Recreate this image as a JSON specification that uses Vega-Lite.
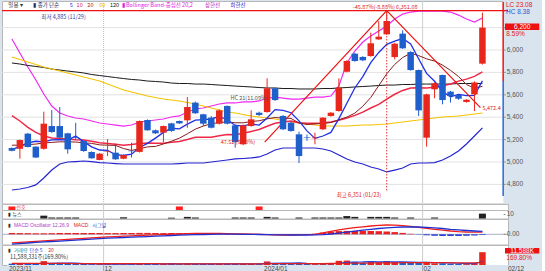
{
"$schema":"https://vega.github.io/schema/vega-lite/v6.json",
"background":"#d9e4ef",
"padding":0,
"spacing":0,
"bounds":"flush",
"config":{
 "view":{"stroke":"#b8b8b8","fill":"#ffffff"},
 "text":{"font":"Noto Sans CJK KR","fontSize":5.5}
},
"datasets":{
"candles":[
{"i":0,"o":5125,"h":5130,"l":5095,"c":5100,"v":1.2,"m5":5110,"m10":5150,"m20":5415,"m60":5938,"m120":5884,"bu":6098,"bl":4750,"macd":-86,"sig":-99,"osc":13,"v5":1.3,"v20":1.5},
{"i":1,"o":5118,"h":5200,"l":5030,"c":5196,"v":1.0,"m5":5140,"m10":5150,"m20":5366,"m60":5915,"m120":5875,"bu":5973,"bl":4759,"macd":-81,"sig":-93,"osc":12,"v5":1.2,"v20":1.5},
{"i":2,"o":5253,"h":5260,"l":5130,"c":5134,"v":1.1,"m5":5170,"m10":5155,"m20":5310,"m60":5893,"m120":5862,"bu":5848,"bl":4772,"macd":-76,"sig":-87,"osc":11,"v5":1.2,"v20":1.4},
{"i":3,"o":5137,"h":5140,"l":5035,"c":5040,"v":1.0,"m5":5185,"m10":5160,"m20":5264,"m60":5870,"m120":5853,"bu":5732,"bl":4795,"macd":-71,"sig":-81,"osc":10,"v5":1.1,"v20":1.4},
{"i":4,"o":5118,"h":5449,"l":5110,"c":5342,"v":3.5,"m5":5180,"m10":5170,"m20":5232,"m60":5848,"m120":5844,"bu":5607,"bl":4857,"macd":-66,"sig":-76,"osc":10,"v5":1.6,"v20":1.4},
{"i":5,"o":5321,"h":5464,"l":5260,"c":5268,"v":1.5,"m5":5198,"m10":5175,"m20":5214,"m60":5830,"m120":5830,"bu":5500,"bl":4928,"macd":-61,"sig":-72,"osc":11,"v5":1.6,"v20":1.4},
{"i":6,"o":5321,"h":5491,"l":5200,"c":5217,"v":1.4,"m5":5200,"m10":5180,"m20":5210,"m60":5812,"m120":5821,"bu":5437,"bl":4982,"macd":-55,"sig":-68,"osc":13,"v5":1.7,"v20":1.4},
{"i":7,"o":5256,"h":5260,"l":5074,"c":5113,"v":1.1,"m5":5196,"m10":5180,"m20":5205,"m60":5795,"m120":5812,"bu":5411,"bl":5000,"macd":-50,"sig":-63,"osc":13,"v5":1.7,"v20":1.4},
{"i":8,"o":5220,"h":5350,"l":5195,"c":5215,"v":0.9,"m5":5231,"m10":5178,"m20":5198,"m60":5777,"m120":5804,"bu":5393,"bl":5004,"macd":-45,"sig":-58,"osc":13,"v5":1.7,"v20":1.3},
{"i":9,"o":5187,"h":5190,"l":5090,"c":5098,"v":0.9,"m5":5182,"m10":5172,"m20":5196,"m60":5759,"m120":5795,"bu":5384,"bl":5009,"macd":-40,"sig":-53,"osc":13,"v5":1.2,"v20":1.3},
{"i":10,"o":5089,"h":5095,"l":5030,"c":5033,"v":0.8,"m5":5135,"m10":5166,"m20":5185,"m60":5741,"m120":5781,"bu":5366,"bl":5004,"macd":-35,"sig":-48,"osc":13,"v5":1.0,"v20":1.3},
{"i":11,"o":5018,"h":5080,"l":5015,"c":5074,"v":0.8,"m5":5107,"m10":5153,"m20":5171,"m60":5723,"m120":5772,"bu":5348,"bl":4995,"macd":-30,"sig":-43,"osc":13,"v5":0.9,"v20":1.3},
{"i":12,"o":5090,"h":5205,"l":5053,"c":5095,"v":0.8,"m5":5103,"m10":5150,"m20":5165,"m60":5696,"m120":5763,"bu":5339,"bl":4991,"macd":-26,"sig":-38,"osc":12,"v5":0.8,"v20":1.2},
{"i":13,"o":5083,"h":5163,"l":5020,"c":5024,"v":0.7,"m5":5065,"m10":5148,"m20":5158,"m60":5670,"m120":5754,"bu":5330,"bl":4986,"macd":-23,"sig":-35,"osc":12,"v5":0.8,"v20":1.2},
{"i":14,"o":5029,"h":5070,"l":5025,"c":5062,"v":0.7,"m5":5058,"m10":5120,"m20":5150,"m60":5643,"m120":5745,"bu":5321,"bl":4982,"macd":-19,"sig":-32,"osc":13,"v5":0.8,"v20":1.2},
{"i":15,"o":5100,"h":5172,"l":5040,"c":5096,"v":0.8,"m5":5070,"m10":5103,"m20":5156,"m60":5625,"m120":5737,"bu":5330,"bl":4982,"macd":-16,"sig":-29,"osc":13,"v5":0.8,"v20":1.2},
{"i":16,"o":5090,"h":5370,"l":5085,"c":5366,"v":1.8,"m5":5129,"m10":5118,"m20":5165,"m60":5607,"m120":5732,"bu":5357,"bl":4982,"macd":-12,"sig":-26,"osc":14,"v5":1.0,"v20":1.2},
{"i":17,"o":5375,"h":5380,"l":5280,"c":5283,"v":1.2,"m5":5166,"m10":5135,"m20":5170,"m60":5589,"m120":5723,"bu":5366,"bl":4982,"macd":-9,"sig":-23,"osc":14,"v5":1.0,"v20":1.2},
{"i":18,"o":5283,"h":5290,"l":5250,"c":5256,"v":0.9,"m5":5213,"m10":5139,"m20":5168,"m60":5576,"m120":5719,"bu":5375,"bl":4982,"macd":-6,"sig":-19,"osc":13,"v5":1.1,"v20":1.2},
{"i":19,"o":5262,"h":5325,"l":5178,"c":5321,"v":1.0,"m5":5264,"m10":5161,"m20":5167,"m60":5562,"m120":5714,"bu":5384,"bl":4982,"macd":-3,"sig":-15,"osc":12,"v5":1.1,"v20":1.1},
{"i":20,"o":5345,"h":5350,"l":5270,"c":5277,"v":0.9,"m5":5301,"m10":5185,"m20":5176,"m60":5553,"m120":5705,"bu":5402,"bl":4982,"macd":1,"sig":-12,"osc":13,"v5":1.2,"v20":1.1},
{"i":21,"o":5366,"h":5370,"l":5340,"c":5345,"v":0.8,"m5":5296,"m10":5213,"m20":5183,"m60":5545,"m120":5701,"bu":5411,"bl":4986,"macd":3,"sig":-9,"osc":12,"v5":1.0,"v20":1.0},
{"i":22,"o":5372,"h":5580,"l":5306,"c":5491,"v":1.6,"m5":5338,"m10":5252,"m20":5201,"m60":5531,"m120":5701,"bu":5446,"bl":4991,"macd":6,"sig":-6,"osc":12,"v5":1.0,"v20":1.0},
{"i":23,"o":5530,"h":5540,"l":5430,"c":5435,"v":1.2,"m5":5374,"m10":5293,"m20":5221,"m60":5518,"m120":5696,"bu":5473,"bl":4991,"macd":8,"sig":-4,"osc":12,"v5":1.1,"v20":1.0},
{"i":24,"o":5426,"h":5430,"l":5320,"c":5342,"v":0.9,"m5":5378,"m10":5321,"m20":5221,"m60":5500,"m120":5696,"bu":5482,"bl":4991,"macd":9,"sig":-2,"osc":11,"v5":1.1,"v20":1.0},
{"i":25,"o":5396,"h":5410,"l":5300,"c":5306,"v":0.9,"m5":5384,"m10":5342,"m20":5222,"m60":5482,"m120":5692,"bu":5500,"bl":5000,"macd":10,"sig":0,"osc":10,"v5":1.1,"v20":1.0},
{"i":26,"o":5342,"h":5470,"l":5335,"c":5461,"v":1.1,"m5":5407,"m10":5352,"m20":5235,"m60":5464,"m120":5687,"bu":5518,"bl":5009,"macd":9,"sig":1,"osc":8,"v5":1.1,"v20":1.0},
{"i":27,"o":5500,"h":5505,"l":5335,"c":5342,"v":1.2,"m5":5377,"m10":5358,"m20":5246,"m60":5446,"m120":5683,"bu":5527,"bl":5018,"macd":7,"sig":1,"osc":6,"v5":1.1,"v20":1.0},
{"i":28,"o":5327,"h":5335,"l":5128,"c":5178,"v":1.3,"m5":5326,"m10":5350,"m20":5244,"m60":5437,"m120":5678,"bu":5527,"bl":5027,"macd":5,"sig":1,"osc":4,"v5":1.1,"v20":1.0},
{"i":29,"o":5158,"h":5335,"l":5150,"c":5327,"v":1.1,"m5":5323,"m10":5350,"m20":5256,"m60":5424,"m120":5674,"bu":5536,"bl":5031,"macd":3,"sig":0,"osc":3,"v5":1.1,"v20":1.0},
{"i":30,"o":5321,"h":5461,"l":5315,"c":5381,"v":1.0,"m5":5338,"m10":5361,"m20":5273,"m60":5411,"m120":5670,"bu":5536,"bl":5036,"macd":1,"sig":-1,"osc":2,"v5":1.1,"v20":1.0},
{"i":31,"o":5440,"h":5450,"l":5410,"c":5420,"v":0.8,"m5":5330,"m10":5368,"m20":5290,"m60":5402,"m120":5665,"bu":5545,"bl":5045,"macd":-1,"sig":-2,"osc":1,"v5":1.1,"v20":1.0},
{"i":32,"o":5446,"h":5747,"l":5440,"c":5658,"v":3.2,"m5":5393,"m10":5385,"m20":5319,"m60":5393,"m120":5661,"bu":5571,"bl":5071,"macd":-3,"sig":-4,"osc":1,"v5":1.5,"v20":1.1},
{"i":33,"o":5658,"h":5665,"l":5545,"c":5553,"v":1.9,"m5":5468,"m10":5397,"m20":5345,"m60":5384,"m120":5661,"bu":5580,"bl":5107,"macd":-5,"sig":-5,"osc":0,"v5":1.6,"v20":1.2},
{"i":34,"o":5411,"h":5420,"l":5285,"c":5292,"v":1.5,"m5":5461,"m10":5392,"m20":5357,"m60":5370,"m120":5656,"bu":5571,"bl":5125,"macd":-7,"sig":-6,"osc":-1,"v5":1.7,"v20":1.2},
{"i":35,"o":5351,"h":5360,"l":5270,"c":5277,"v":1.0,"m5":5440,"m10":5389,"m20":5366,"m60":5357,"m120":5656,"bu":5562,"bl":5125,"macd":-7,"sig":-7,"osc":0,"v5":1.7,"v20":1.2},
{"i":36,"o":5247,"h":5270,"l":4991,"c":5053,"v":1.9,"m5":5367,"m10":5348,"m20":5350,"m60":5348,"m120":5652,"bu":5562,"bl":5125,"macd":-6,"sig":-7,"osc":1,"v5":1.9,"v20":1.3},
{"i":37,"o":5220,"h":5245,"l":5190,"c":5215,"v":0.9,"m5":5278,"m10":5335,"m20":5347,"m60":5339,"m120":5652,"bu":5571,"bl":5125,"macd":-4,"sig":-7,"osc":3,"v5":1.4,"v20":1.3},
{"i":38,"o":5212,"h":5262,"l":5158,"c":5218,"v":0.8,"m5":5211,"m10":5339,"m20":5345,"m60":5330,"m120":5652,"bu":5580,"bl":5125,"macd":0,"sig":-6,"osc":6,"v5":1.2,"v20":1.3},
{"i":39,"o":5292,"h":5400,"l":5285,"c":5396,"v":1.2,"m5":5232,"m10":5346,"m20":5348,"m60":5321,"m120":5656,"bu":5580,"bl":5116,"macd":14,"sig":-3,"osc":17,"v5":1.2,"v20":1.3},
{"i":40,"o":5411,"h":5445,"l":5405,"c":5440,"v":1.5,"m5":5264,"m10":5352,"m20":5357,"m60":5321,"m120":5656,"bu":5589,"bl":5098,"macd":30,"sig":3,"osc":27,"v5":1.3,"v20":1.4},
{"i":41,"o":5455,"h":5747,"l":5450,"c":5664,"v":3.8,"m5":5387,"m10":5377,"m20":5372,"m60":5321,"m120":5661,"bu":5679,"bl":5062,"macd":44,"sig":12,"osc":32,"v5":1.6,"v20":1.5},
{"i":42,"o":5806,"h":5910,"l":5800,"c":5902,"v":4.0,"m5":5524,"m10":5401,"m20":5393,"m60":5321,"m120":5665,"bu":5884,"bl":5027,"macd":56,"sig":22,"osc":34,"v5":2.3,"v20":1.6},
{"i":43,"o":5967,"h":5975,"l":5895,"c":5902,"v":2.8,"m5":5661,"m10":5436,"m20":5416,"m60":5326,"m120":5670,"bu":5991,"bl":5000,"macd":66,"sig":32,"osc":34,"v5":2.7,"v20":1.7},
{"i":44,"o":5938,"h":5945,"l":5900,"c":5908,"v":2.0,"m5":5763,"m10":5498,"m20":5445,"m60":5330,"m120":5674,"bu":6071,"bl":4982,"macd":75,"sig":41,"osc":34,"v5":2.8,"v20":1.7},
{"i":45,"o":5946,"h":6155,"l":5940,"c":6060,"v":2.9,"m5":5887,"m10":5576,"m20":5482,"m60":5330,"m120":5678,"bu":6125,"bl":4955,"macd":83,"sig":50,"osc":33,"v5":3.1,"v20":1.8},
{"i":46,"o":6095,"h":6259,"l":6090,"c":6119,"v":2.5,"m5":5978,"m10":5682,"m20":5515,"m60":5335,"m120":5683,"bu":6170,"bl":4937,"macd":89,"sig":58,"osc":31,"v5":2.8,"v20":1.9},
{"i":47,"o":6140,"h":6351,"l":6135,"c":6259,"v":3.6,"m5":6050,"m10":5787,"m20":5561,"m60":5339,"m120":5687,"bu":6214,"bl":4911,"macd":93,"sig":65,"osc":28,"v5":2.8,"v20":2.0},
{"i":48,"o":5937,"h":6065,"l":5917,"c":6056,"v":2.6,"m5":6080,"m10":5871,"m20":5605,"m60":5348,"m120":5687,"bu":6277,"bl":4928,"macd":92,"sig":70,"osc":22,"v5":2.8,"v20":2.0},
{"i":49,"o":6146,"h":6176,"l":6010,"c":6015,"v":2.2,"m5":6102,"m10":5933,"m20":5639,"m60":5357,"m120":5692,"bu":6321,"bl":4946,"macd":87,"sig":73,"osc":14,"v5":2.8,"v20":2.1},
{"i":50,"o":5982,"h":5990,"l":5815,"c":5821,"v":2.0,"m5":6054,"m10":5971,"m20":5661,"m60":5366,"m120":5692,"bu":6339,"bl":4982,"macd":79,"sig":74,"osc":5,"v5":2.6,"v20":2.1},
{"i":51,"o":5821,"h":5825,"l":5411,"c":5461,"v":2.6,"m5":5922,"m10":5950,"m20":5663,"m60":5375,"m120":5696,"bu":6348,"bl":4991,"macd":70,"sig":73,"osc":-3,"v5":2.4,"v20":2.2},
{"i":52,"o":5217,"h":5610,"l":5137,"c":5604,"v":2.8,"m5":5791,"m10":5921,"m20":5661,"m60":5384,"m120":5696,"bu":6348,"bl":4991,"macd":60,"sig":70,"osc":-10,"v5":2.4,"v20":2.2},
{"i":53,"o":5649,"h":5710,"l":5569,"c":5702,"v":1.5,"m5":5721,"m10":5901,"m20":5668,"m60":5393,"m120":5696,"bu":6348,"bl":4995,"macd":50,"sig":65,"osc":-15,"v5":2.2,"v20":2.1},
{"i":54,"o":5777,"h":5780,"l":5515,"c":5553,"v":1.6,"m5":5628,"m10":5865,"m20":5681,"m60":5402,"m120":5696,"bu":6348,"bl":5018,"macd":41,"sig":58,"osc":-17,"v5":2.1,"v20":2.1},
{"i":55,"o":5628,"h":5635,"l":5530,"c":5589,"v":1.1,"m5":5582,"m10":5818,"m20":5697,"m60":5406,"m120":5696,"bu":6339,"bl":5053,"macd":33,"sig":50,"osc":-17,"v5":1.9,"v20":2.0},
{"i":56,"o":5598,"h":5600,"l":5555,"c":5565,"v":0.9,"m5":5603,"m10":5763,"m20":5722,"m60":5411,"m120":5701,"bu":6312,"bl":5098,"macd":27,"sig":44,"osc":-17,"v5":1.6,"v20":2.0},
{"i":57,"o":5536,"h":5560,"l":5530,"c":5556,"v":0.8,"m5":5593,"m10":5692,"m20":5740,"m60":5420,"m120":5701,"bu":6277,"bl":5161,"macd":23,"sig":38,"osc":-15,"v5":1.2,"v20":2.0},
{"i":58,"o":5604,"h":5720,"l":5455,"c":5710,"v":1.6,"m5":5595,"m10":5658,"m20":5764,"m60":5429,"m120":5701,"bu":6250,"bl":5232,"macd":21,"sig":33,"osc":-12,"v5":1.2,"v20":1.9},
{"i":59,"o":5878,"h":6333,"l":5870,"c":6200,"v":11.588,"m5":5724,"m10":5676,"m20":5804,"m60":5437,"m120":5701,"bu":6286,"bl":5304,"macd":22,"sig":29,"osc":-7,"v5":3.2,"v20":2.4}
],
"news":[{"i":4,"n":7},{"i":5,"n":2.5},{"i":6,"n":2.5},{"i":7,"n":2.5},{"i":8,"n":2.5},{"i":14,"n":3},{"i":20,"n":2},{"i":22,"n":4},{"i":23,"n":2.5},{"i":28,"n":2.5},{"i":29,"n":2.5},{"i":30,"n":2.5},{"i":32,"n":4},{"i":33,"n":2.5},{"i":36,"n":2.5},{"i":38,"n":2.5},{"i":39,"n":2.5},{"i":40,"n":2.5},{"i":41,"n":2.5},{"i":42,"n":6},{"i":43,"n":4},{"i":45,"n":4},{"i":46,"n":4},{"i":47,"n":4},{"i":48,"n":2.5},{"i":50,"n":2.5},{"i":53,"n":2.5},{"i":59,"n":12}],
"signals":[{"i":0,"s":1},{"i":21,"s":1},{"i":31,"s":1}],
"trend":[{"i":31.7,"p":5178},{"i":47,"p":6351},{"i":58.75,"p":5485}],
"pgrid":[{"p":4800},{"p":5000},{"p":5200},{"p":5400},{"p":5600},{"p":5800},{"p":6000},{"p":6200}],
"vgrid":[{"i":11.5},{"i":51.5}],
"months":[{"i":-0.37,"lab":"2023/11"},{"i":11.62,"lab":"12"},{"i":31.62,"lab":"2024/01"},{"i":51.62,"lab":"02"}]
},
"vconcat":[
{"width":506,"height":202.5,"layer":[
 {"data":{"values":[{}]},"mark":{"type":"rect","color":"#d9e4ef"},"encoding":{"x":{"datum":61.62,"type":"quantitative","scale":{"domain":[-0.615,61.58],"nice":false,"zero":false},"axis":null},"x2":{"datum":66.37},"y":{"datum":4629.3,"type":"quantitative","scale":{"domain":[4629.3,6437.6],"nice":false,"zero":false},"axis":null},"y2":{"datum":6437.6}}},
 {"data":{"name":"pgrid"},"mark":{"type":"rule","color":"#e2e2e2","strokeWidth":1},"encoding":{"y":{"field":"p","type":"quantitative","scale":{"domain":[4629.3,6437.6],"nice":false,"zero":false},"axis":null}}},
 {"data":{"name":"vgrid"},"mark":{"type":"rule","strokeWidth":1},"encoding":{"x":{"field":"i","type":"quantitative","scale":{"domain":[-0.615,61.58],"nice":false,"zero":false},"axis":null},"color":{"condition":{"test":"datum.i < 20","value":"#b9b4e6"},"value":"#cfcfcf"},"strokeDash":{"condition":{"test":"datum.i < 20","value":[1,1]},"value":[1,0]}}},
 {"data":{"name":"candles"},"mark":{"type":"line","color":"#f028f0","strokeWidth":1.2},"encoding":{"x":{"field":"i","type":"quantitative","scale":{"domain":[-0.615,61.58],"nice":false,"zero":false},"axis":null},"y":{"field":"bu","type":"quantitative","scale":{"domain":[4629.3,6437.6],"nice":false,"zero":false},"axis":null}}},
 {"data":{"name":"candles"},"mark":{"type":"line","color":"#2424d0","strokeWidth":1.2},"encoding":{"x":{"field":"i","type":"quantitative","scale":{"domain":[-0.615,61.58],"nice":false,"zero":false},"axis":null},"y":{"field":"bl","type":"quantitative","scale":{"domain":[4629.3,6437.6],"nice":false,"zero":false},"axis":null}}},
 {"data":{"name":"candles"},"mark":{"type":"line","color":"#1a1a1a","strokeWidth":1},"encoding":{"x":{"field":"i","type":"quantitative","scale":{"domain":[-0.615,61.58],"nice":false,"zero":false},"axis":null},"y":{"field":"m120","type":"quantitative","scale":{"domain":[4629.3,6437.6],"nice":false,"zero":false},"axis":null}}},
 {"data":{"name":"candles"},"mark":{"type":"line","color":"#f5c400","strokeWidth":1.1},"encoding":{"x":{"field":"i","type":"quantitative","scale":{"domain":[-0.615,61.58],"nice":false,"zero":false},"axis":null},"y":{"field":"m60","type":"quantitative","scale":{"domain":[4629.3,6437.6],"nice":false,"zero":false},"axis":null}}},
 {"data":{"name":"candles"},"mark":{"type":"line","color":"#f02848","strokeWidth":1.5},"encoding":{"x":{"field":"i","type":"quantitative","scale":{"domain":[-0.615,61.58],"nice":false,"zero":false},"axis":null},"y":{"field":"m20","type":"quantitative","scale":{"domain":[4629.3,6437.6],"nice":false,"zero":false},"axis":null}}},
 {"data":{"name":"candles"},"mark":{"type":"line","color":"#8b1c1c","strokeWidth":1},"encoding":{"x":{"field":"i","type":"quantitative","scale":{"domain":[-0.615,61.58],"nice":false,"zero":false},"axis":null},"y":{"field":"m10","type":"quantitative","scale":{"domain":[4629.3,6437.6],"nice":false,"zero":false},"axis":null}}},
 {"data":{"name":"candles"},"mark":{"type":"line","color":"#1f30e6","strokeWidth":1.3},"encoding":{"x":{"field":"i","type":"quantitative","scale":{"domain":[-0.615,61.58],"nice":false,"zero":false},"axis":null},"y":{"field":"m5","type":"quantitative","scale":{"domain":[4629.3,6437.6],"nice":false,"zero":false},"axis":null}}},
 {"data":{"name":"trend"},"mark":{"type":"line","color":"#ee1111","strokeWidth":1.2},"encoding":{"x":{"field":"i","type":"quantitative","scale":{"domain":[-0.615,61.58],"nice":false,"zero":false},"axis":null},"y":{"field":"p","type":"quantitative","scale":{"domain":[4629.3,6437.6],"nice":false,"zero":false},"axis":null}}},
 {"data":{"values":[{}]},"mark":{"type":"rule","color":"#ee1111","strokeWidth":1.2},"encoding":{"y":{"datum":6351,"type":"quantitative","scale":{"domain":[4629.3,6437.6],"nice":false,"zero":false},"axis":null}}},
 {"data":{"values":[{}]},"mark":{"type":"rule","color":"#e03030","strokeWidth":1,"strokeDash":[1.5,1.5]},"encoding":{"x":{"datum":47,"type":"quantitative","scale":{"domain":[-0.615,61.58],"nice":false,"zero":false},"axis":null},"y":{"datum":6340,"type":"quantitative","scale":{"domain":[4629.3,6437.6],"nice":false,"zero":false},"axis":null},"y2":{"datum":4740}}},
 {"data":{"values":[{}]},"mark":{"type":"rule","color":"#ee1111","strokeWidth":1.5},"encoding":{"x":{"datum":61.6,"type":"quantitative","scale":{"domain":[-0.615,61.58],"nice":false,"zero":false},"axis":null},"y":{"datum":6428,"type":"quantitative","scale":{"domain":[4629.3,6437.6],"nice":false,"zero":false},"axis":null},"y2":{"datum":5723}}},
 {"data":{"values":[{}]},"mark":{"type":"rule","color":"#2a66d8","strokeWidth":1.5},"encoding":{"x":{"datum":61.6,"type":"quantitative","scale":{"domain":[-0.615,61.58],"nice":false,"zero":false},"axis":null},"y":{"datum":5723,"type":"quantitative","scale":{"domain":[4629.3,6437.6],"nice":false,"zero":false},"axis":null},"y2":{"datum":4696}}},
 {"data":{"name":"candles"},"mark":{"type":"rule","strokeWidth":1},"encoding":{"x":{"field":"i","type":"quantitative","scale":{"domain":[-0.615,61.58],"nice":false,"zero":false},"axis":null},"y":{"field":"l","type":"quantitative","scale":{"domain":[4629.3,6437.6],"nice":false,"zero":false},"axis":null},"y2":{"field":"h"},"color":{"condition":{"test":"datum.c >= datum.o","value":"#e8261c"},"value":"#1e5fcc"}}},
 {"data":{"name":"candles"},"mark":{"type":"bar","width":6.5},"encoding":{"x":{"field":"i","type":"quantitative","scale":{"domain":[-0.615,61.58],"nice":false,"zero":false},"axis":null},"y":{"field":"o","type":"quantitative","scale":{"domain":[4629.3,6437.6],"nice":false,"zero":false},"axis":null},"y2":{"field":"c"},"color":{"condition":{"test":"datum.c >= datum.o","value":"#e8261c"},"value":"#1e5fcc"}}},
 {"data":{"name":"pgrid"},"mark":{"type":"rule","color":"#888888","strokeWidth":1},"encoding":{"x":{"datum":61.66,"type":"quantitative","scale":{"domain":[-0.615,61.58],"nice":false,"zero":false},"axis":null},"x2":{"datum":61.9},"y":{"field":"p","type":"quantitative","scale":{"domain":[4629.3,6437.6],"nice":false,"zero":false},"axis":null}}},
 {"data":{"name":"pgrid"},"transform":[{"filter":"datum.p < 6100"}],"mark":{"type":"text","align":"left","baseline":"middle","color":"#555555","font":"Liberation Sans","fontSize":6.5},"encoding":{"x":{"datum":62.05,"type":"quantitative","scale":{"domain":[-0.615,61.58],"nice":false,"zero":false},"axis":null},"y":{"field":"p","type":"quantitative","scale":{"domain":[4629.3,6437.6],"nice":false,"zero":false},"axis":null},"text":{"field":"p","type":"quantitative","format":","}}},
 {"data":{"values":[{}]},"mark":{"type":"text","align":"left","baseline":"middle","color":"#333333"},"encoding":{"x":{"datum":-0.45,"type":"quantitative","scale":{"domain":[-0.615,61.58],"nice":false,"zero":false},"axis":null},"y":{"datum":6402,"type":"quantitative","scale":{"domain":[4629.3,6437.6],"nice":false,"zero":false},"axis":null},"text":{"value":"일봉 ▾"}}},
 {"data":{"values":[{}]},"mark":{"type":"text","align":"left","baseline":"middle","color":"#25306a"},"encoding":{"x":{"datum":2.7,"type":"quantitative","scale":{"domain":[-0.615,61.58],"nice":false,"zero":false},"axis":null},"y":{"datum":6402,"type":"quantitative","scale":{"domain":[4629.3,6437.6],"nice":false,"zero":false},"axis":null},"text":{"value":"▮ 종가 단순"}}},
 {"data":{"values":[{}]},"mark":{"type":"text","align":"left","baseline":"middle","color":"#2030e0"},"encoding":{"x":{"datum":7.25,"type":"quantitative","scale":{"domain":[-0.615,61.58],"nice":false,"zero":false},"axis":null},"y":{"datum":6402,"type":"quantitative","scale":{"domain":[4629.3,6437.6],"nice":false,"zero":false},"axis":null},"text":{"value":"5"}}},
 {"data":{"values":[{}]},"mark":{"type":"text","align":"left","baseline":"middle","color":"#e0202a"},"encoding":{"x":{"datum":8.11,"type":"quantitative","scale":{"domain":[-0.615,61.58],"nice":false,"zero":false},"axis":null},"y":{"datum":6402,"type":"quantitative","scale":{"domain":[4629.3,6437.6],"nice":false,"zero":false},"axis":null},"text":{"value":"10"}}},
 {"data":{"values":[{}]},"mark":{"type":"text","align":"left","baseline":"middle","color":"#a01818"},"encoding":{"x":{"datum":9.46,"type":"quantitative","scale":{"domain":[-0.615,61.58],"nice":false,"zero":false},"axis":null},"y":{"datum":6402,"type":"quantitative","scale":{"domain":[4629.3,6437.6],"nice":false,"zero":false},"axis":null},"text":{"value":"20"}}},
 {"data":{"values":[{}]},"mark":{"type":"text","align":"left","baseline":"middle","color":"#e8b400"},"encoding":{"x":{"datum":10.94,"type":"quantitative","scale":{"domain":[-0.615,61.58],"nice":false,"zero":false},"axis":null},"y":{"datum":6402,"type":"quantitative","scale":{"domain":[4629.3,6437.6],"nice":false,"zero":false},"axis":null},"text":{"value":"60"}}},
 {"data":{"values":[{}]},"mark":{"type":"text","align":"left","baseline":"middle","color":"#111111"},"encoding":{"x":{"datum":12.29,"type":"quantitative","scale":{"domain":[-0.615,61.58],"nice":false,"zero":false},"axis":null},"y":{"datum":6402,"type":"quantitative","scale":{"domain":[4629.3,6437.6],"nice":false,"zero":false},"axis":null},"text":{"value":"120"}}},
 {"data":{"values":[{}]},"mark":{"type":"text","align":"left","baseline":"middle","color":"#e020e0"},"encoding":{"x":{"datum":13.77,"type":"quantitative","scale":{"domain":[-0.615,61.58],"nice":false,"zero":false},"axis":null},"y":{"datum":6402,"type":"quantitative","scale":{"domain":[4629.3,6437.6],"nice":false,"zero":false},"axis":null},"text":{"value":"▮ Bollinger Band-중심선 20,2"}}},
 {"data":{"values":[{}]},"mark":{"type":"text","align":"left","baseline":"middle","color":"#b020c0"},"encoding":{"x":{"datum":24.21,"type":"quantitative","scale":{"domain":[-0.615,61.58],"nice":false,"zero":false},"axis":null},"y":{"datum":6402,"type":"quantitative","scale":{"domain":[4629.3,6437.6],"nice":false,"zero":false},"axis":null},"text":{"value":"상한선"}}},
 {"data":{"values":[{}]},"mark":{"type":"text","align":"left","baseline":"middle","color":"#2020c0"},"encoding":{"x":{"datum":27.41,"type":"quantitative","scale":{"domain":[-0.615,61.58],"nice":false,"zero":false},"axis":null},"y":{"datum":6402,"type":"quantitative","scale":{"domain":[4629.3,6437.6],"nice":false,"zero":false},"axis":null},"text":{"value":"하한선"}}},
 {"data":{"values":[{}]},"mark":{"type":"text","align":"left","baseline":"middle","color":"#3040a0"},"encoding":{"x":{"datum":3.69,"type":"quantitative","scale":{"domain":[-0.615,61.58],"nice":false,"zero":false},"axis":null},"y":{"datum":6295,"type":"quantitative","scale":{"domain":[4629.3,6437.6],"nice":false,"zero":false},"axis":null},"text":{"value":"최저 4,885 (11/29)"}}},
 {"data":{"values":[{}]},"mark":{"type":"text","align":"center","baseline":"middle","color":"#e02020"},"encoding":{"x":{"datum":46.8,"type":"quantitative","scale":{"domain":[-0.615,61.58],"nice":false,"zero":false},"axis":null},"y":{"datum":6380,"type":"quantitative","scale":{"domain":[4629.3,6437.6],"nice":false,"zero":false},"axis":null},"text":{"value":"-45.87%(-8.88%) 6,351.08"}}},
 {"data":{"values":[{}]},"mark":{"type":"text","align":"left","baseline":"middle","color":"#505050"},"encoding":{"x":{"datum":27.41,"type":"quantitative","scale":{"domain":[-0.615,61.58],"nice":false,"zero":false},"axis":null},"y":{"datum":5571,"type":"quantitative","scale":{"domain":[4629.3,6437.6],"nice":false,"zero":false},"axis":null},"text":{"value":"HC 21(11.09%)"}}},
 {"data":{"values":[{}]},"mark":{"type":"text","align":"left","baseline":"middle","color":"#e02020"},"encoding":{"x":{"datum":26.18,"type":"quantitative","scale":{"domain":[-0.615,61.58],"nice":false,"zero":false},"axis":null},"y":{"datum":5178,"type":"quantitative","scale":{"domain":[4629.3,6437.6],"nice":false,"zero":false},"axis":null},"text":{"value":"47.52 (9.80%)"}}},
 {"data":{"values":[{}]},"mark":{"type":"text","align":"left","baseline":"middle","color":"#e02020"},"encoding":{"x":{"datum":59,"type":"quantitative","scale":{"domain":[-0.615,61.58],"nice":false,"zero":false},"axis":null},"y":{"datum":5485,"type":"quantitative","scale":{"domain":[4629.3,6437.6],"nice":false,"zero":false},"axis":null},"text":{"value":"5,472.4"}}},
 {"data":{"values":[{}]},"mark":{"type":"text","align":"right","baseline":"middle","color":"#e02020"},"encoding":{"x":{"datum":46.3,"type":"quantitative","scale":{"domain":[-0.615,61.58],"nice":false,"zero":false},"axis":null},"y":{"datum":4705,"type":"quantitative","scale":{"domain":[4629.3,6437.6],"nice":false,"zero":false},"axis":null},"text":{"value":"최고 6,351 (01/23)"}}},
 {"data":{"values":[{}]},"mark":{"type":"text","align":"left","baseline":"middle","color":"#e02020","font":"Liberation Sans","fontSize":6.5},"encoding":{"x":{"datum":61.95,"type":"quantitative","scale":{"domain":[-0.615,61.58],"nice":false,"zero":false},"axis":null},"y":{"datum":6402,"type":"quantitative","scale":{"domain":[4629.3,6437.6],"nice":false,"zero":false},"axis":null},"text":{"value":"LC 23.08"}}},
 {"data":{"values":[{}]},"mark":{"type":"text","align":"left","baseline":"middle","color":"#2a5ad0","font":"Liberation Sans","fontSize":6.5},"encoding":{"x":{"datum":61.95,"type":"quantitative","scale":{"domain":[-0.615,61.58],"nice":false,"zero":false},"axis":null},"y":{"datum":6339,"type":"quantitative","scale":{"domain":[4629.3,6437.6],"nice":false,"zero":false},"axis":null},"text":{"value":"HC 8.38"}}},
 {"data":{"values":[{}]},"mark":{"type":"rect","color":"#ee1111"},"encoding":{"x":{"datum":61.83,"type":"quantitative","scale":{"domain":[-0.615,61.58],"nice":false,"zero":false},"axis":null},"x2":{"datum":66.13},"y":{"datum":6236,"type":"quantitative","scale":{"domain":[4629.3,6437.6],"nice":false,"zero":false},"axis":null},"y2":{"datum":6178}}},
 {"data":{"values":[{}]},"mark":{"type":"text","align":"center","baseline":"middle","color":"#ffffff","font":"Liberation Sans","fontSize":6.5},"encoding":{"x":{"datum":63.98,"type":"quantitative","scale":{"domain":[-0.615,61.58],"nice":false,"zero":false},"axis":null},"y":{"datum":6207,"type":"quantitative","scale":{"domain":[4629.3,6437.6],"nice":false,"zero":false},"axis":null},"text":{"value":"6,200"}}},
 {"data":{"values":[{}]},"mark":{"type":"text","align":"left","baseline":"middle","color":"#e02020","font":"Liberation Sans","fontSize":6.5},"encoding":{"x":{"datum":62.0,"type":"quantitative","scale":{"domain":[-0.615,61.58],"nice":false,"zero":false},"axis":null},"y":{"datum":6147,"type":"quantitative","scale":{"domain":[4629.3,6437.6],"nice":false,"zero":false},"axis":null},"text":{"value":"8.59%"}}}
]},
{"width":506,"height":6,"layer":[
 {"data":{"name":"vgrid"},"mark":{"type":"rule","color":"#cccccc","strokeWidth":1},"encoding":{"x":{"field":"i","type":"quantitative","scale":{"domain":[-0.615,61.58],"nice":false,"zero":false},"axis":null}}},
 {"data":{"name":"signals"},"mark":{"type":"bar","width":7,"color":"#ff2020"},"encoding":{"x":{"field":"i","type":"quantitative","scale":{"domain":[-0.615,61.58],"nice":false,"zero":false},"axis":null},"y":{"field":"s","type":"quantitative","scale":{"domain":[0,1.7],"nice":false},"axis":null}}},
 {"data":{"values":[{}]},"mark":{"type":"text","align":"left","baseline":"middle","color":"#e02020","fontSize":5},"encoding":{"x":{"datum":0.55,"type":"quantitative","scale":{"domain":[-0.615,61.58],"nice":false,"zero":false},"axis":null},"y":{"datum":0.95,"type":"quantitative","scale":{"domain":[0,1.7],"nice":false},"axis":null},"text":{"value":"신호"}}}
]},
{"width":506,"height":8.5,"layer":[
 {"data":{"name":"vgrid"},"mark":{"type":"rule","color":"#cccccc","strokeWidth":1},"encoding":{"x":{"field":"i","type":"quantitative","scale":{"domain":[-0.615,61.58],"nice":false,"zero":false},"axis":null}}},
 {"data":{"name":"news"},"mark":{"type":"bar","width":7,"color":"#222222"},"encoding":{"x":{"field":"i","type":"quantitative","scale":{"domain":[-0.615,61.58],"nice":false,"zero":false},"axis":null},"y":{"field":"n","type":"quantitative","scale":{"domain":[0,21],"nice":false},"axis":null}}},
 {"data":{"values":[{}]},"mark":{"type":"text","align":"left","baseline":"middle","color":"#222222","fontSize":5},"encoding":{"x":{"datum":-0.45,"type":"quantitative","scale":{"domain":[-0.615,61.58],"nice":false,"zero":false},"axis":null},"y":{"datum":11,"type":"quantitative","scale":{"domain":[0,21],"nice":false},"axis":null},"text":{"value":"▮ 뉴스"}}},
 {"data":{"values":[{}]},"mark":{"type":"rule","color":"#888888","strokeWidth":1},"encoding":{"x":{"datum":61.66,"type":"quantitative","scale":{"domain":[-0.615,61.58],"nice":false,"zero":false},"axis":null},"x2":{"datum":61.9},"y":{"datum":10,"type":"quantitative","scale":{"domain":[0,21],"nice":false},"axis":null}}},
 {"data":{"values":[{}]},"mark":{"type":"text","align":"left","baseline":"middle","color":"#555555","font":"Liberation Sans","fontSize":6.5},"encoding":{"x":{"datum":62.05,"type":"quantitative","scale":{"domain":[-0.615,61.58],"nice":false,"zero":false},"axis":null},"y":{"datum":10,"type":"quantitative","scale":{"domain":[0,21],"nice":false},"axis":null},"text":{"value":"10"}}}
]},
{"width":506,"height":25.5,"layer":[
 {"data":{"name":"vgrid"},"mark":{"type":"rule","color":"#cccccc","strokeWidth":1},"encoding":{"x":{"field":"i","type":"quantitative","scale":{"domain":[-0.615,61.58],"nice":false,"zero":false},"axis":null}}},
 {"data":{"values":[{}]},"mark":{"type":"rule","color":"#a9b1c9","strokeWidth":1},"encoding":{"y":{"datum":0,"type":"quantitative","scale":{"domain":[-102,153],"nice":false},"axis":null}}},
 {"data":{"name":"candles"},"mark":{"type":"bar","width":6.5},"encoding":{"x":{"field":"i","type":"quantitative","scale":{"domain":[-0.615,61.58],"nice":false,"zero":false},"axis":null},"y":{"field":"osc","type":"quantitative","scale":{"domain":[-102,153],"nice":false},"axis":null},"color":{"condition":{"test":"datum.osc >= 0","value":"#ee2020"},"value":"#2a40d0"}}},
 {"data":{"name":"candles"},"mark":{"type":"line","color":"#ee1c1c","strokeWidth":1.3},"encoding":{"x":{"field":"i","type":"quantitative","scale":{"domain":[-0.615,61.58],"nice":false,"zero":false},"axis":null},"y":{"field":"macd","type":"quantitative","scale":{"domain":[-102,153],"nice":false},"axis":null}}},
 {"data":{"name":"candles"},"mark":{"type":"line","color":"#2030d0","strokeWidth":1.3},"encoding":{"x":{"field":"i","type":"quantitative","scale":{"domain":[-0.615,61.58],"nice":false,"zero":false},"axis":null},"y":{"field":"sig","type":"quantitative","scale":{"domain":[-102,153],"nice":false},"axis":null}}},
 {"data":{"values":[{}]},"mark":{"type":"text","align":"left","baseline":"middle","color":"#333333","fontSize":5},"encoding":{"x":{"datum":-0.45,"type":"quantitative","scale":{"domain":[-0.615,61.58],"nice":false,"zero":false},"axis":null},"y":{"datum":96,"type":"quantitative","scale":{"domain":[-102,153],"nice":false},"axis":null},"text":{"value":"▮"}}},
 {"data":{"values":[{}]},"mark":{"type":"text","align":"left","baseline":"middle","color":"#b040c8","font":"Liberation Sans","fontSize":5},"encoding":{"x":{"datum":0.25,"type":"quantitative","scale":{"domain":[-0.615,61.58],"nice":false,"zero":false},"axis":null},"y":{"datum":96,"type":"quantitative","scale":{"domain":[-102,153],"nice":false},"axis":null},"text":{"value":"MACD Oscillator 12,26,9"}}},
 {"data":{"values":[{}]},"mark":{"type":"text","align":"left","baseline":"middle","color":"#e02020","font":"Liberation Sans","fontSize":5},"encoding":{"x":{"datum":7.74,"type":"quantitative","scale":{"domain":[-0.615,61.58],"nice":false,"zero":false},"axis":null},"y":{"datum":96,"type":"quantitative","scale":{"domain":[-102,153],"nice":false},"axis":null},"text":{"value":"MACD"}}},
 {"data":{"values":[{}]},"mark":{"type":"text","align":"left","baseline":"middle","color":"#2030c0","fontSize":5},"encoding":{"x":{"datum":10.08,"type":"quantitative","scale":{"domain":[-0.615,61.58],"nice":false,"zero":false},"axis":null},"y":{"datum":96,"type":"quantitative","scale":{"domain":[-102,153],"nice":false},"axis":null},"text":{"value":"시그널"}}},
 {"data":{"values":[{}]},"mark":{"type":"rule","color":"#888888","strokeWidth":1},"encoding":{"x":{"datum":61.66,"type":"quantitative","scale":{"domain":[-0.615,61.58],"nice":false,"zero":false},"axis":null},"x2":{"datum":61.9},"y":{"datum":0,"type":"quantitative","scale":{"domain":[-102,153],"nice":false},"axis":null}}},
 {"data":{"values":[{}]},"mark":{"type":"text","align":"left","baseline":"middle","color":"#555555","font":"Liberation Sans","fontSize":6.5},"encoding":{"x":{"datum":62.05,"type":"quantitative","scale":{"domain":[-0.615,61.58],"nice":false,"zero":false},"axis":null},"y":{"datum":0,"type":"quantitative","scale":{"domain":[-102,153],"nice":false},"axis":null},"text":{"value":"0.00"}}}
]},
{"width":506,"height":20,"layer":[
 {"data":{"values":[{}]},"mark":{"type":"rect","color":"#d9e4ef"},"encoding":{"x":{"datum":-0.615,"type":"quantitative","scale":{"domain":[-0.615,61.58],"nice":false,"zero":false},"axis":null},"x2":{"datum":66.37},"y":{"datum":0,"type":"quantitative","scale":{"domain":[0,18.1],"nice":false},"axis":null},"y2":{"datum":-7.69}}},
 {"data":{"name":"vgrid"},"mark":{"type":"rule","color":"#cccccc","strokeWidth":1},"encoding":{"x":{"field":"i","type":"quantitative","scale":{"domain":[-0.615,61.58],"nice":false,"zero":false},"axis":null}}},
 {"data":{"name":"vgrid"},"mark":{"type":"rule","color":"#9aa4b4","strokeWidth":1},"encoding":{"x":{"field":"i","type":"quantitative","scale":{"domain":[-0.615,61.58],"nice":false,"zero":false},"axis":null},"y":{"datum":0,"type":"quantitative","scale":{"domain":[0,18.1],"nice":false},"axis":null},"y2":{"datum":-6.5}}},
 {"data":{"name":"candles"},"mark":{"type":"bar","width":6.5},"encoding":{"x":{"field":"i","type":"quantitative","scale":{"domain":[-0.615,61.58],"nice":false,"zero":false},"axis":null},"y":{"field":"v","type":"quantitative","scale":{"domain":[0,18.1],"nice":false},"axis":null},"color":{"condition":{"test":"datum.c >= datum.o","value":"#e8261c"},"value":"#1e5fcc"}}},
 {"data":{"name":"candles"},"mark":{"type":"line","color":"#2040e0","strokeWidth":1.2},"encoding":{"x":{"field":"i","type":"quantitative","scale":{"domain":[-0.615,61.58],"nice":false,"zero":false},"axis":null},"y":{"field":"v5","type":"quantitative","scale":{"domain":[0,18.1],"nice":false},"axis":null}}},
 {"data":{"name":"candles"},"mark":{"type":"line","color":"#e02020","strokeWidth":1.2},"encoding":{"x":{"field":"i","type":"quantitative","scale":{"domain":[-0.615,61.58],"nice":false,"zero":false},"axis":null},"y":{"field":"v20","type":"quantitative","scale":{"domain":[0,18.1],"nice":false},"axis":null}}},
 {"data":{"values":[{}]},"mark":{"type":"text","align":"left","baseline":"middle","color":"#333333","fontSize":5},"encoding":{"x":{"datum":-0.45,"type":"quantitative","scale":{"domain":[-0.615,61.58],"nice":false,"zero":false},"axis":null},"y":{"datum":13.4,"type":"quantitative","scale":{"domain":[0,18.1],"nice":false},"axis":null},"text":{"value":"▮"}}},
 {"data":{"values":[{}]},"mark":{"type":"text","align":"left","baseline":"middle","color":"#2090a0","fontSize":5},"encoding":{"x":{"datum":0.25,"type":"quantitative","scale":{"domain":[-0.615,61.58],"nice":false,"zero":false},"axis":null},"y":{"datum":13.4,"type":"quantitative","scale":{"domain":[0,18.1],"nice":false},"axis":null},"text":{"value":"거래량"}}},
 {"data":{"values":[{}]},"mark":{"type":"text","align":"left","baseline":"middle","color":"#2040d0","fontSize":5},"encoding":{"x":{"datum":2.21,"type":"quantitative","scale":{"domain":[-0.615,61.58],"nice":false,"zero":false},"axis":null},"y":{"datum":13.4,"type":"quantitative","scale":{"domain":[0,18.1],"nice":false},"axis":null},"text":{"value":"단순 5"}}},
 {"data":{"values":[{}]},"mark":{"type":"text","align":"left","baseline":"middle","color":"#e02020","fontSize":5},"encoding":{"x":{"datum":4.55,"type":"quantitative","scale":{"domain":[-0.615,61.58],"nice":false,"zero":false},"axis":null},"y":{"datum":13.4,"type":"quantitative","scale":{"domain":[0,18.1],"nice":false},"axis":null},"text":{"value":"20"}}},
 {"data":{"values":[{}]},"mark":{"type":"text","align":"left","baseline":"middle","color":"#333333","fontSize":5.5},"encoding":{"x":{"datum":-0.25,"type":"quantitative","scale":{"domain":[-0.615,61.58],"nice":false,"zero":false},"axis":null},"y":{"datum":7.4,"type":"quantitative","scale":{"domain":[0,18.1],"nice":false},"axis":null},"text":{"value":"11,588,331주(169.80%)"}}},
 {"data":{"values":[{}]},"mark":{"type":"rect","color":"#ee1111"},"encoding":{"x":{"datum":61.83,"type":"quantitative","scale":{"domain":[-0.615,61.58],"nice":false,"zero":false},"axis":null},"x2":{"datum":66.13},"y":{"datum":15.4,"type":"quantitative","scale":{"domain":[0,18.1],"nice":false},"axis":null},"y2":{"datum":10.4}}},
 {"data":{"values":[{}]},"mark":{"type":"text","align":"center","baseline":"middle","color":"#ffffff","font":"Liberation Sans","fontSize":6.5},"encoding":{"x":{"datum":63.98,"type":"quantitative","scale":{"domain":[-0.615,61.58],"nice":false,"zero":false},"axis":null},"y":{"datum":12.9,"type":"quantitative","scale":{"domain":[0,18.1],"nice":false},"axis":null},"text":{"value":"11,588K"}}},
 {"data":{"values":[{}]},"mark":{"type":"text","align":"left","baseline":"middle","color":"#e02020","font":"Liberation Sans","fontSize":6.5},"encoding":{"x":{"datum":62.0,"type":"quantitative","scale":{"domain":[-0.615,61.58],"nice":false,"zero":false},"axis":null},"y":{"datum":5.9,"type":"quantitative","scale":{"domain":[0,18.1],"nice":false},"axis":null},"text":{"value":"169.80%"}}},
 {"data":{"name":"months"},"mark":{"type":"text","align":"left","baseline":"middle","color":"#444444","font":"Liberation Sans","fontSize":6.5},"encoding":{"x":{"field":"i","type":"quantitative","scale":{"domain":[-0.615,61.58],"nice":false,"zero":false},"axis":null},"y":{"datum":-3.6,"type":"quantitative","scale":{"domain":[0,18.1],"nice":false},"axis":null},"text":{"field":"lab"}}},
 {"data":{"values":[{}]},"mark":{"type":"text","align":"left","baseline":"middle","color":"#444444","font":"Liberation Sans","fontSize":6.5},"encoding":{"x":{"datum":62.2,"type":"quantitative","scale":{"domain":[-0.615,61.58],"nice":false,"zero":false},"axis":null},"y":{"datum":-3.6,"type":"quantitative","scale":{"domain":[0,18.1],"nice":false},"axis":null},"text":{"value":"02/12"}}}
]}
]
}
